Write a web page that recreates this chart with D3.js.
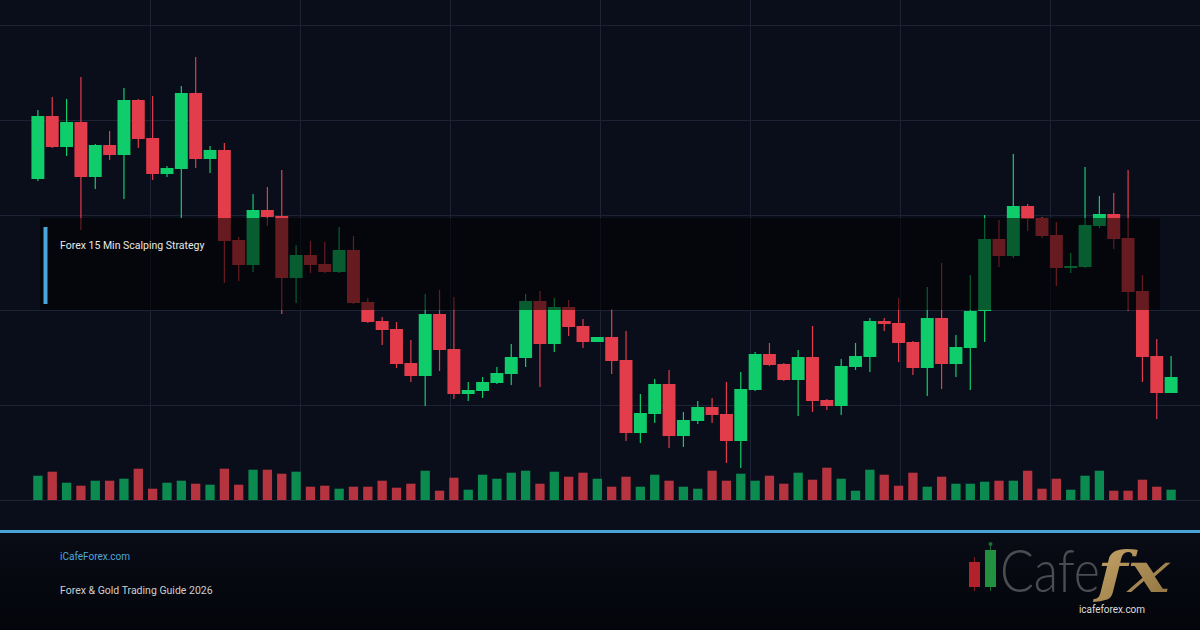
<!DOCTYPE html>
<html>
<head>
<meta charset="utf-8">
<script src="https://cdn.jsdelivr.net/npm/d3@7"></script>
<style>
  html, body { margin: 0; background: #0a0e1a; }
  svg { display: block; }
</style>
</head>
<body>
<svg id="chart" width="1200" height="630"></svg>
<script>
// 80 bars
const opens  = [2221,2284,2253,2278,2223,2255,2245,2300,2262,2226,2231,2307,2241,2250,2160,2135,2190,2184,2122,2145,
                2136,2128,2150,2098,2079,2071,2037,2024,2086,2051,2006,2009,2017,2026,2042,2099,2056,2093,2074,2058,
                2063,2040,1967,1986,2016,1964,1979,1993,1986,1959,2010,2046,2036,2020,2043,2000,1994,2033,2043,2079,
                2077,2058,2032,2082,2036,2052,2089,2161,2144,2194,2182,2165,2132,2133,2174,2186,2162,2109,2044,2007];
const highs  = [2290,2303,2301,2323,2256,2269,2312,2301,2304,2234,2314,2343,2254,2257,2163,2206,2213,2230,2155,2159,
                2158,2173,2164,2102,2083,2078,2060,2106,2110,2103,2018,2023,2033,2056,2106,2109,2102,2100,2081,2063,
                2091,2069,2006,2021,2030,1988,1999,2002,2018,2028,2048,2057,2037,2050,2074,2001,2041,2057,2082,2082,
                2102,2059,2113,2137,2065,2125,2185,2180,2246,2196,2183,2178,2147,2233,2204,2207,2230,2125,2061,2044];
const lows   = [2219,2252,2244,2170,2211,2240,2201,2252,2220,2223,2182,2232,2227,2117,2119,2128,2174,2086,2097,2127,
                2127,2127,2096,2077,2055,2032,2018,1994,2029,2001,1999,2002,2016,2015,2033,2013,2048,2064,2052,2058,
                2026,1959,1957,1977,1952,1953,1976,1977,1937,1932,2009,2034,2019,1984,1988,1990,1985,2030,2028,2069,
                2038,2025,2004,2011,2023,2010,2058,2133,2142,2169,2162,2114,2127,2132,2172,2151,2089,2018,1981,2007];
const closes = [2284,2253,2278,2223,2255,2245,2300,2261,2226,2232,2307,2241,2250,2159,2135,2190,2183,2122,2145,2135,
                2128,2150,2097,2078,2070,2036,2024,2086,2050,2006,2010,2018,2027,2043,2099,2056,2093,2073,2058,2063,
                2039,1967,1987,2016,1964,1980,1993,1985,1959,2011,2046,2035,2020,2043,1999,1994,2034,2044,2079,2076,
                2057,2032,2082,2036,2053,2089,2161,2144,2194,2181,2164,2132,2134,2175,2186,2161,2108,2043,2007,2023];
const volumes = [243,283,173,143,193,193,213,313,113,173,193,163,153,313,153,303,303,263,283,133,
                 143,113,133,133,193,123,163,293,93,223,103,253,213,273,293,163,283,233,273,213,
                 133,233,133,253,193,133,113,293,193,263,193,243,163,273,203,323,213,93,303,253,
                 143,273,133,233,163,163,183,193,193,293,113,213,103,243,293,93,93,203,133,103];

const title = "Forex 15 Min Scalping Strategy";
const site = "iCafeForex.com";
const subtitle = "Forex & Gold Trading Guide 2026";

const W = 1200, H = 630;
const up = "#10cd6b", down = "#e33d4b";
const volUp = "#0b8b4f", volDown = "#b5343f";

const bars = opens.map((o, i) => ({ i, o, h: highs[i], l: lows[i], c: closes[i], v: volumes[i] }));

const svg = d3.select("#chart");

const defs = svg.append("defs");
const fg = defs.append("linearGradient").attr("id", "footer").attr("x1", 0).attr("y1", 0).attr("x2", 0).attr("y2", 1);
fg.append("stop").attr("offset", "0%").attr("stop-color", "#090c16");
fg.append("stop").attr("offset", "100%").attr("stop-color", "#03050a");
const gold = defs.append("linearGradient").attr("id", "gold").attr("x1", 0).attr("y1", 0).attr("x2", 1).attr("y2", 1);
gold.append("stop").attr("offset", "0%").attr("stop-color", "#c9a86a");
gold.append("stop").attr("offset", "100%").attr("stop-color", "#8e7140");

svg.append("rect").attr("width", W).attr("height", 530).attr("fill", "#0a0e1a");

const x = d3.scaleBand().domain(d3.range(bars.length)).range([30, 1179]).padding(0.1);
const y = d3.scaleLinear().domain([2375, 1900]).range([25, 500]);
const yv = d3.scaleLinear().domain([0, 400]).range([500, 460]);

// grid
const grid = svg.append("g").attr("stroke", "#1c2334").attr("stroke-width", 1);
grid.selectAll(".h").data(d3.range(25, 501, 95)).enter().append("line")
  .attr("x1", 0).attr("x2", W).attr("y1", d => d + 0.5).attr("y2", d => d + 0.5);
grid.selectAll(".v").data(d3.range(150, W, 150)).enter().append("line")
  .attr("y1", 0).attr("y2", 500).attr("x1", d => d + 0.5).attr("x2", d => d + 0.5);

// volume
const vw = x.bandwidth() * 0.72;
svg.append("g").selectAll("rect").data(bars).enter().append("rect")
  .attr("x", d => x(d.i) + (x.bandwidth() - vw) / 2)
  .attr("width", vw)
  .attr("y", d => yv(d.v))
  .attr("height", d => yv(0) - yv(d.v))
  .attr("fill", d => d.c >= d.o ? volUp : volDown);

// candles
const cg = svg.append("g").selectAll("g").data(bars).enter().append("g");
cg.append("line")
  .attr("x1", d => x(d.i) + x.bandwidth() / 2)
  .attr("x2", d => x(d.i) + x.bandwidth() / 2)
  .attr("y1", d => y(d.h))
  .attr("y2", d => y(d.l))
  .attr("stroke", d => d.c >= d.o ? up : down)
  .attr("stroke-width", 1.2);
cg.append("rect")
  .attr("x", d => x(d.i))
  .attr("width", x.bandwidth())
  .attr("y", d => y(Math.max(d.o, d.c)))
  .attr("height", d => Math.max(1.5, Math.abs(y(d.o) - y(d.c))))
  .attr("fill", d => d.c >= d.o ? up : down);

// title box
svg.append("rect").attr("x", 40).attr("y", 218).attr("width", 1120).attr("height", 92)
  .attr("fill", "#000").attr("opacity", 0.55);
svg.append("rect").attr("x", 43.5).attr("y", 227).attr("width", 4).attr("height", 77).attr("fill", "#4aa6da");
svg.append("text").attr("x", 60).attr("y", 249)
  .attr("font-family", "Roboto, sans-serif").attr("font-size", 10.5).attr("fill", "#e8e8e8")
  .text(title);

// footer
svg.append("rect").attr("y", 530).attr("width", W).attr("height", 100).attr("fill", "url(#footer)");
svg.append("rect").attr("y", 530).attr("width", W).attr("height", 3).attr("fill", "#4aa3d6");
svg.append("text").attr("x", 60).attr("y", 560)
  .attr("font-family", "Roboto, sans-serif").attr("font-size", 10).attr("fill", "#4ea6da").text(site);
svg.append("text").attr("x", 60).attr("y", 594)
  .attr("font-family", "Roboto, sans-serif").attr("font-size", 10.5).attr("fill", "#cfcfcf").text(subtitle);

// logo
const logo = svg.append("g");
logo.append("line").attr("x1", 974.5).attr("x2", 974.5).attr("y1", 557).attr("y2", 591).attr("stroke", "#7a1c22");
logo.append("rect").attr("x", 969).attr("y", 562).attr("width", 11).attr("height", 25).attr("fill", "#b3222b");
logo.append("line").attr("x1", 990.5).attr("x2", 990.5).attr("y1", 544).attr("y2", 591).attr("stroke", "#1f6b37");
logo.append("circle").attr("cx", 990.5).attr("cy", 544).attr("r", 2).attr("fill", "#1f6b37");
logo.append("rect").attr("x", 985).attr("y", 550).attr("width", 11).attr("height", 37).attr("fill", "#21913f");
logo.append("text").attr("x", 1000).attr("y", 592)
  .attr("font-family", "Lato, 'Open Sans', sans-serif").attr("font-weight", 300).attr("font-size", 60)
  .attr("textLength", 100).attr("lengthAdjust", "spacingAndGlyphs")
  .attr("fill", "#4b4d52").text("Cafe");
logo.append("text").attr("x", 1097).attr("y", 592)
  .attr("font-family", "'DejaVu Serif', serif").attr("font-style", "italic").attr("font-weight", "bold")
  .attr("font-size", 56).attr("textLength", 73).attr("lengthAdjust", "spacingAndGlyphs")
  .attr("fill", "url(#gold)").text("fx");
logo.append("text").attr("x", 1079).attr("y", 613)
  .attr("font-family", "Roboto, sans-serif").attr("font-size", 10).attr("fill", "#dddddd")
  .attr("textLength", 66).text("icafeforex.com");
</script>
</body>
</html>
